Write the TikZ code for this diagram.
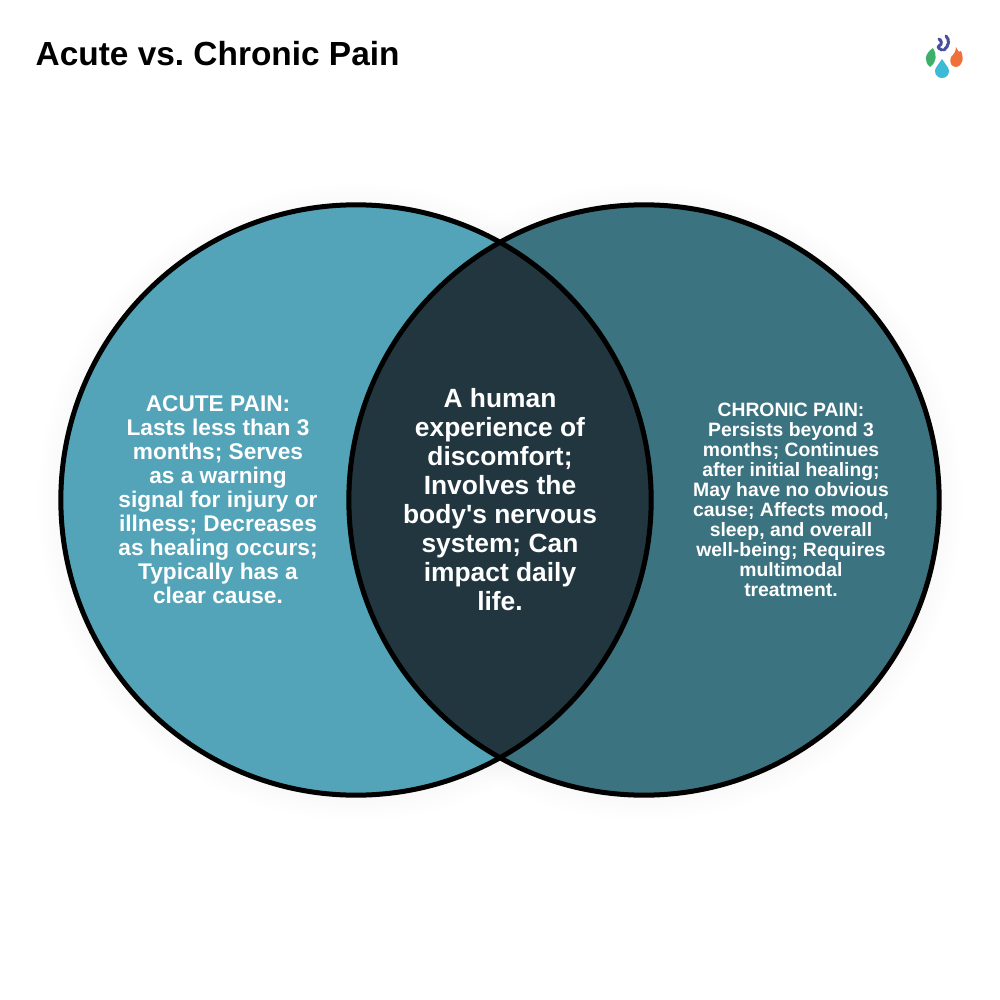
\documentclass[tikz,border=0pt]{standalone}
\usepackage{fontspec}
\setmainfont{Liberation Sans}[Ligatures=TeXOff]
\frenchspacing
\definecolor{acute}{HTML}{53A4B8}
\definecolor{chronic}{HTML}{3C7380}
\definecolor{both}{HTML}{21363F}
\definecolor{logogreen}{HTML}{3CB06A}
\definecolor{logoblue}{HTML}{3DBAD6}
\definecolor{logoorange}{HTML}{F0703C}
\definecolor{logopurple}{HTML}{4A4EA0}
\tikzset{
  lab/.style={text=white,align=center,inner sep=0pt},
  ring/.style={draw=black,line width=0.05cm},
  halo/.style={fill=black,fill opacity=0.004}
}
\begin{document}
\begin{tikzpicture}[x=0.01cm,y=-0.01cm]
\useasboundingbox (0,0) rectangle (1000,1000);
\fill[white] (0,0) rectangle (1000,1000);
\foreach \r in {2.98,3.02,3.06,3.10,3.14,3.18}{
  \fill[halo] (356,502) circle[radius=\r cm];
  \fill[halo] (644,502) circle[radius=\r cm];
}
\fill[acute] (356,500) circle[radius=2.95cm];
\fill[chronic] (644,500) circle[radius=2.95cm];
\begin{scope}
\clip (356,500) circle[radius=2.95cm];
\fill[both] (644,500) circle[radius=2.95cm];
\end{scope}
\draw[ring] (356,500) circle[radius=2.95cm];
\draw[ring] (644,500) circle[radius=2.95cm];
\node[anchor=west,font=\bfseries\fontsize{9.5}{11}\selectfont,inner sep=0pt] (title) at (35,54) {Acute vs. Chronic Pain};
\node[lab,font=\bfseries\fontsize{6.45}{6.83}\selectfont] (a) at (218,500) {ACUTE PAIN:\\Lasts less than 3\\months; Serves\\as a warning\\signal for injury or\\illness; Decreases\\as healing occurs;\\Typically has a\\clear cause.};
\node[lab,font=\bfseries\fontsize{7.5}{8.25}\selectfont] (m) at (500,500) {A human\\experience of\\discomfort;\\Involves the\\body's nervous\\system; Can\\impact daily\\life.};
\node[lab,font=\bfseries\fontsize{5.5}{5.69}\selectfont] (c) at (791,500) {CHRONIC PAIN:\\Persists beyond 3\\months; Continues\\after initial healing;\\May have no obvious\\cause; Affects mood,\\sleep, and overall\\well-being; Requires\\multimodal\\treatment.};
% logo
\fill[logoblue] (942,59) .. controls (946,65) and (949,68) .. (949,71) .. controls (949,75) and (946,78) .. (942,78) .. controls (938,78) and (935,75) .. (935,71) .. controls (935,68) and (938,65) .. (942,59) -- cycle;
\fill[logogreen] (933,48) .. controls (937,54) and (937,62) .. (930,67) .. controls (924,62) and (924,54) .. (933,48) -- cycle;
\fill[logoorange] (956,47) .. controls (958,50) and (958,53) .. (961,51) .. controls (964,58) and (963,66) .. (956,67) .. controls (951,67) and (949,62) .. (951,57) .. controls (953,55) and (956,52) .. (956,47) -- cycle;
\draw[logopurple,line width=0.03cm,line cap=round] (946,36) .. controls (950,40) and (949,46) .. (944,50);
\draw[logopurple,line width=0.03cm,line cap=round] (939,39) .. controls (941,40) and (943,44) .. (939,46) .. controls (937,47) and (940,50) .. (942,50);
\end{tikzpicture}
\end{document}
